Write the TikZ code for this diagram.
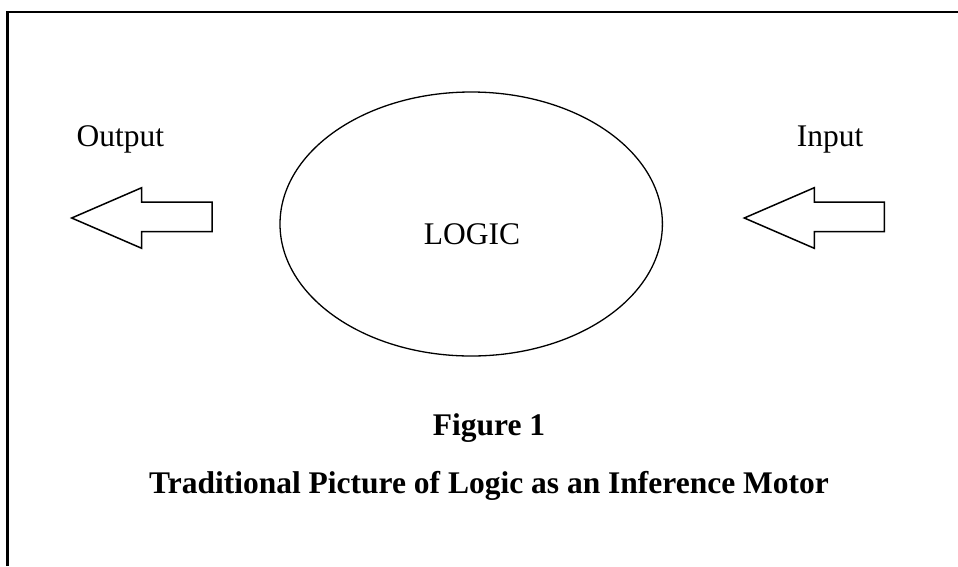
\documentclass[tikz,border=0pt]{standalone}
\usepackage{fontspec}
\setmainfont{Liberation Serif}
\begin{document}
\begin{tikzpicture}[x=1pt,y=-1pt,
  lbl/.style={inner sep=0pt,anchor=base,font=\fontsize{31.5}{38}\selectfont},
  bold/.style={lbl,font=\fontsize{31.5}{38}\selectfont\bfseries},
  arrowshape/.style={draw=black,line width=1.5pt,line join=miter},
  frameline/.style={draw=black,line width=2.2pt}]
\useasboundingbox (0,0) rectangle (958,566);
% frame (top and left)
\draw[frameline] (7.5,566) -- (7.5,12) -- (958,12);
% ellipse
\draw[line width=1.3pt] (471.2,224) ellipse [x radius=191.2, y radius=132];
\node[lbl] (logic) at (472,244) {LOGIC};
% output arrow
\draw[arrowshape] (71.7,218) -- (141.7,187.7) -- (141.7,202) -- (212,202) -- (212,231.7) -- (141.7,231.7) -- (141.7,248.3) -- cycle;
% input arrow
\draw[arrowshape] (744.3,218) -- (814.3,187.7) -- (814.3,202) -- (884.3,202) -- (884.3,231.7) -- (814.3,231.7) -- (814.3,248.3) -- cycle;
\node[lbl] (output) at (120.5,146.7) {Output};
\node[lbl] (input) at (830,146.7) {Input};
\node[bold] (fig) at (489,435) {Figure 1};
\node[bold] (title) at (489,493) {Traditional Picture of Logic as an Inference Motor};
\end{tikzpicture}
\end{document}
